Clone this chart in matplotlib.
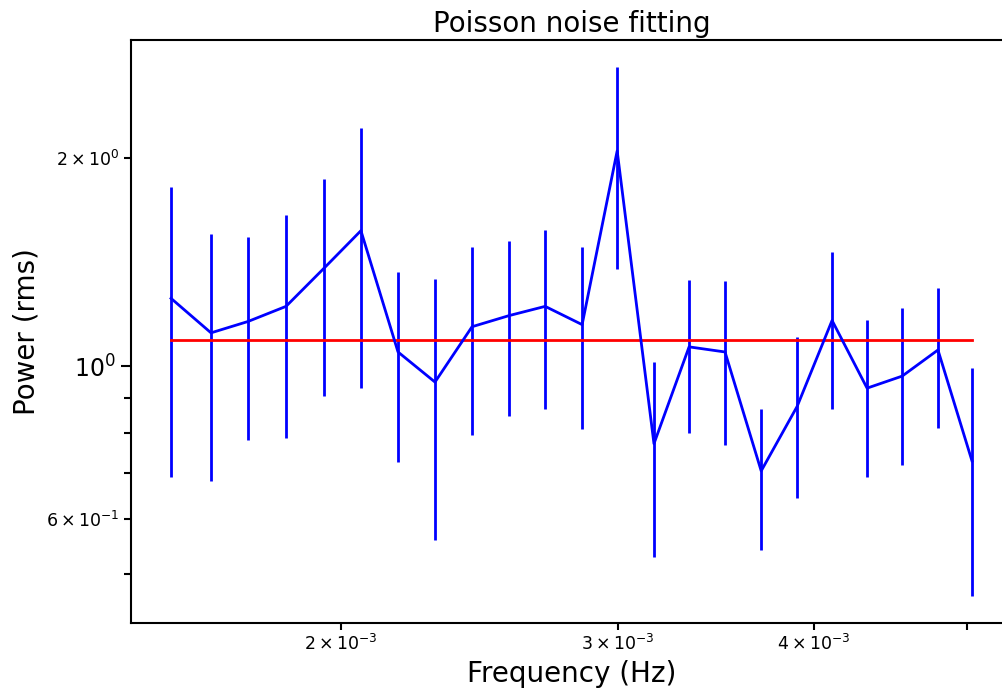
import numpy as np
import matplotlib
matplotlib.use('Agg')
import matplotlib.pyplot as plt

# frequency bins (Hz) and power (rms) with symmetric errors
freq = [1.559e-3, 1.653e-3, 1.745e-3, 1.845e-3, 1.951e-3, 2.059e-3, 2.174e-3,
        2.295e-3, 2.423e-3, 2.558e-3, 2.697e-3, 2.847e-3, 2.997e-3, 3.163e-3,
        3.330e-3, 3.510e-3, 3.701e-3, 3.901e-3, 4.106e-3, 4.322e-3, 4.550e-3,
        4.795e-3, 5.040e-3]
power = [1.253, 1.117, 1.160, 1.220, 1.386, 1.570, 1.048, 0.948, 1.140, 1.183,
         1.220, 1.148, 2.048, 0.772, 1.066, 1.048, 0.705, 0.874, 1.164, 0.929,
         0.967, 1.055, 0.729]
power_err = [0.563, 0.435, 0.378, 0.432, 0.480, 0.640, 0.321, 0.388, 0.346, 0.335,
             0.354, 0.337, 0.665, 0.242, 0.267, 0.280, 0.163, 0.229, 0.298, 0.238,
             0.247, 0.241, 0.265]
noise_level = 1.091

fig = plt.figure(figsize=(10.03, 6.96), dpi=100)
ax = fig.add_axes([0.1306, 0.1049, 0.8784, 0.8376])

ax.errorbar(freq, power, yerr=power_err, color='blue', linewidth=2.0, elinewidth=2.0)
ax.plot(freq, [noise_level] * len(freq), color='red', linewidth=2.0)

ax.set_xscale('log')
ax.set_yscale('log')

ax.set_title('Poisson noise fitting', fontsize=20)
ax.set_xlabel('Frequency (Hz)', fontsize=20)
ax.set_ylabel('Power (rms)', fontsize=20)

for sp in ax.spines.values():
    sp.set_linewidth(1.5)
ax.tick_params(which='major', length=7.5, width=1.5, labelsize=17)
ax.tick_params(which='minor', length=4.8, width=1.5, labelsize=12.5)

fig.savefig('out.png', dpi=100)
